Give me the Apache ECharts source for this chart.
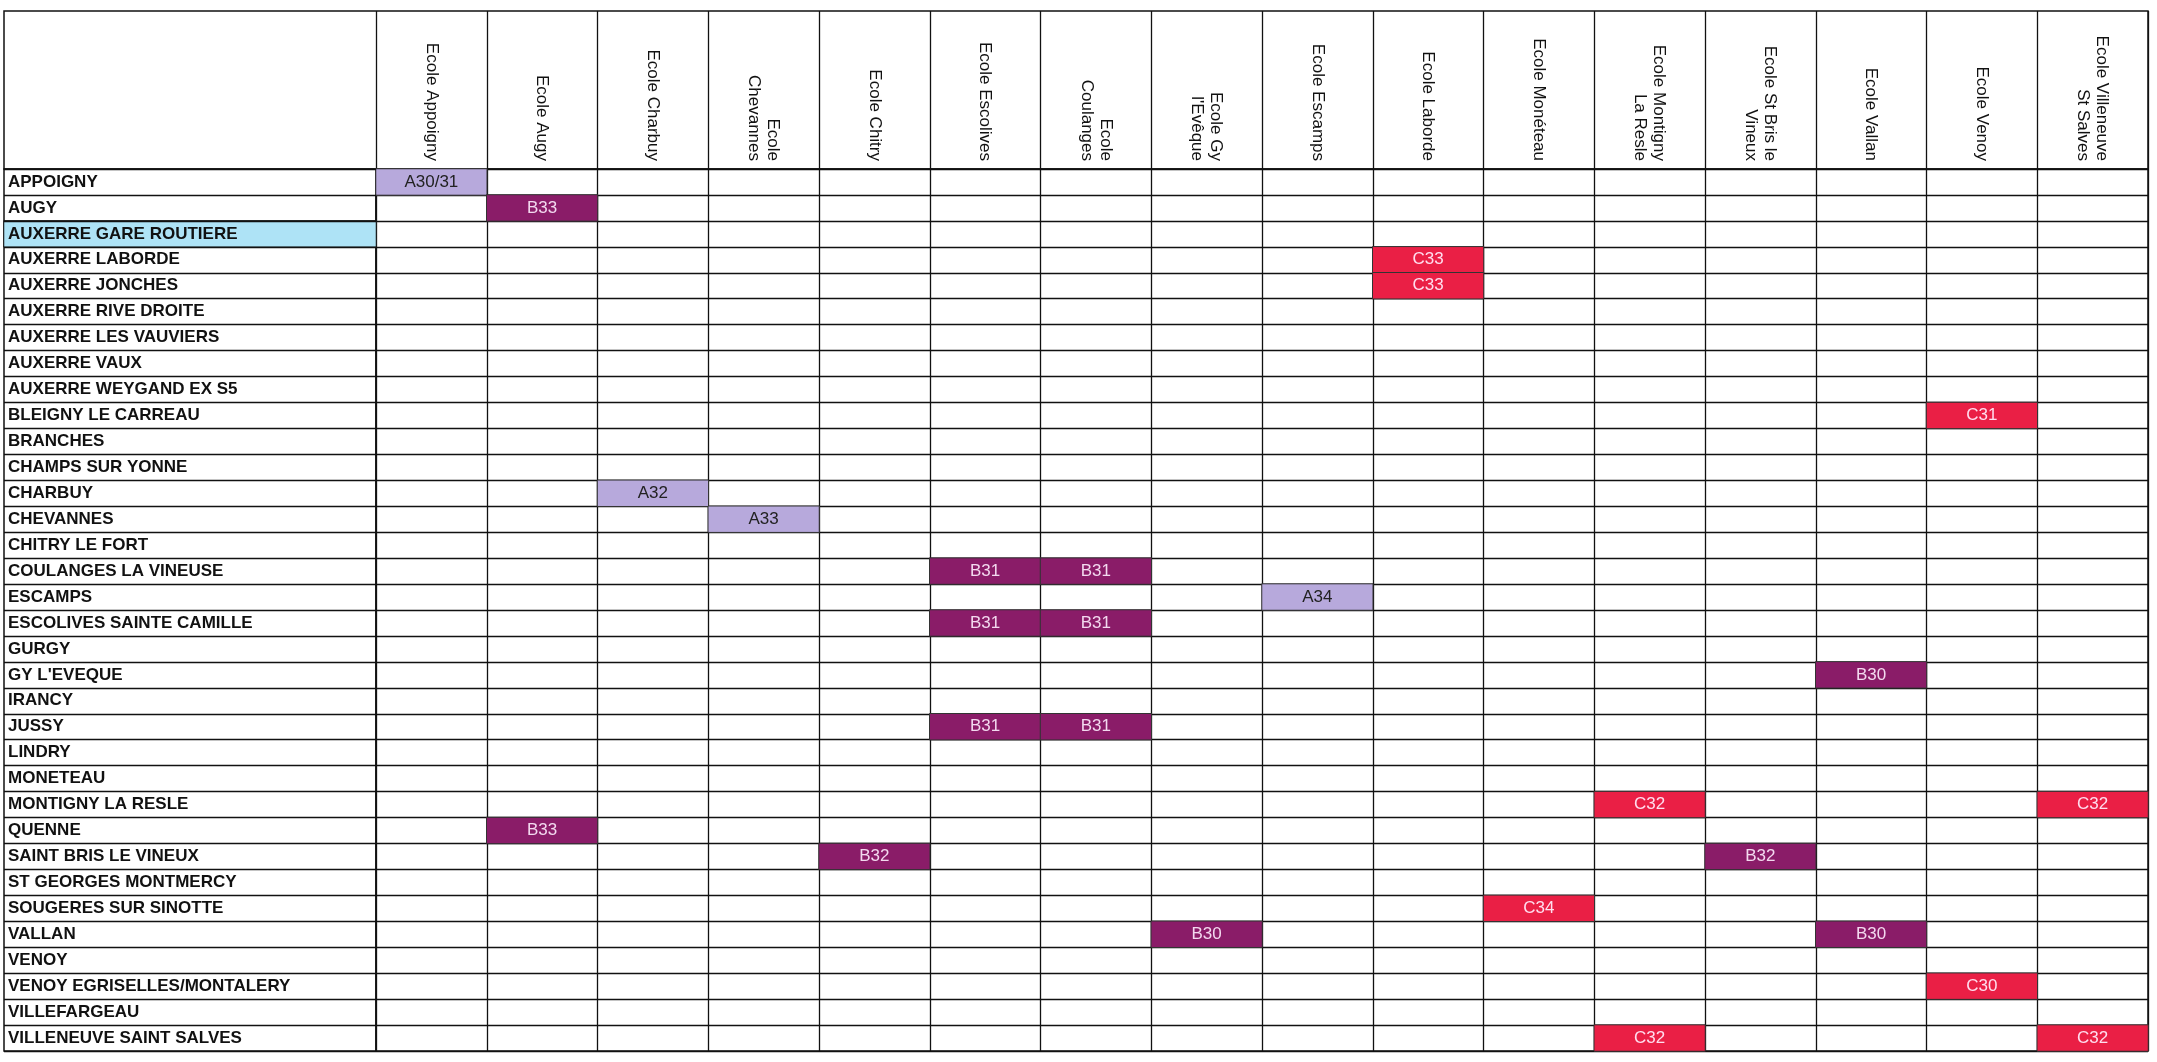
<!DOCTYPE html>
<html><head><meta charset="utf-8">
<script src="https://cdn.jsdelivr.net/npm/echarts@6/dist/echarts.min.js"></script>
<style>html,body{margin:0;padding:0;background:#fff}#c{width:2157px;height:1062px}</style>
</head><body><div id="c"></div>
<script>
const schools = ["Ecole Appoigny","Ecole Augy","Ecole Charbuy","Ecole\nChevannes","Ecole Chitry","Ecole Escolives","Ecole\nCoulanges","Ecole Gy\nl'Evêque","Ecole Escamps","Ecole Laborde","Ecole Monéteau","Ecole Montigny\nLa Resle","Ecole St Bris le\nVineux","Ecole Vallan","Ecole Venoy","Ecole Villeneuve\nSt Salves"];
const stops = ["APPOIGNY","AUGY","AUXERRE GARE ROUTIERE","AUXERRE LABORDE","AUXERRE JONCHES","AUXERRE RIVE DROITE","AUXERRE LES VAUVIERS","AUXERRE VAUX","AUXERRE WEYGAND EX S5","BLEIGNY LE CARREAU","BRANCHES","CHAMPS SUR YONNE","CHARBUY","CHEVANNES","CHITRY LE FORT","COULANGES LA VINEUSE","ESCAMPS","ESCOLIVES SAINTE CAMILLE","GURGY","GY L'EVEQUE","IRANCY","JUSSY","LINDRY","MONETEAU","MONTIGNY LA RESLE","QUENNE","SAINT BRIS LE VINEUX","ST GEORGES MONTMERCY","SOUGERES SUR SINOTTE","VALLAN","VENOY","VENOY EGRISELLES/MONTALERY","VILLEFARGEAU","VILLENEUVE SAINT SALVES"];
const highlightedStops = ["AUXERRE GARE ROUTIERE"];
// [stop, school index, line code]
const assignments = [
 ["APPOIGNY",0,"A30/31"],["AUGY",1,"B33"],["AUXERRE LABORDE",9,"C33"],["AUXERRE JONCHES",9,"C33"],
 ["BLEIGNY LE CARREAU",14,"C31"],["CHARBUY",2,"A32"],["CHEVANNES",3,"A33"],
 ["COULANGES LA VINEUSE",5,"B31"],["COULANGES LA VINEUSE",6,"B31"],["ESCAMPS",8,"A34"],
 ["ESCOLIVES SAINTE CAMILLE",5,"B31"],["ESCOLIVES SAINTE CAMILLE",6,"B31"],["GY L'EVEQUE",13,"B30"],
 ["JUSSY",5,"B31"],["JUSSY",6,"B31"],["MONTIGNY LA RESLE",11,"C32"],["MONTIGNY LA RESLE",15,"C32"],
 ["QUENNE",1,"B33"],["SAINT BRIS LE VINEUX",4,"B32"],["SAINT BRIS LE VINEUX",12,"B32"],
 ["SOUGERES SUR SINOTTE",10,"C34"],["VALLAN",7,"B30"],["VALLAN",13,"B30"],
 ["VENOY EGRISELLES/MONTALERY",14,"C30"],["VILLENEUVE SAINT SALVES",11,"C32"],["VILLENEUVE SAINT SALVES",15,"C32"]
];
</script>
<script>
const style = {A:{bg:"#b7a9dc",fg:"#222"},B:{bg:"#8a1c68",fg:"#f3d9ef"},C:{bg:"#ea1f45",fg:"#fde"}};
const L=4, LW=372, R=2148, TOP=11, HB=169, BOT=1051;
const chart = echarts.init(document.getElementById('c'));
const line = {lineStyle:{color:'#111',width:1.3}};
const cellData = assignments.map(a=>{const s=style[a[2][0]];return {value:[a[1],stops.indexOf(a[0]),1],name:a[2],itemStyle:{color:s.bg},label:{color:s.fg}};});
chart.setOption({
 animation:false,
 grid:[
  {left:L,top:HB,width:LW,height:BOT-HB,show:true,borderColor:'#111',borderWidth:1.5},
  {left:L+LW,top:HB,width:R-L-LW,height:BOT-HB,show:true,borderColor:'#111',borderWidth:1.5},
  {left:L,top:TOP,width:R-L,height:HB-TOP,show:true,borderColor:'#111',borderWidth:1.5},
  {left:L+LW,top:TOP,width:R-L-LW,height:HB-TOP,show:false}
 ],
 xAxis:[
  {gridIndex:0,type:'category',data:[''],show:false},
  {gridIndex:1,type:'category',data:schools,position:'top',axisLine:{show:false},axisTick:{show:false},
   axisLabel:{rotate:90,interval:0,margin:8,fontFamily:'Liberation Sans',fontSize:17,color:'#111',lineHeight:19},
   splitLine:{show:true,interval:0,...line}},
  {gridIndex:2,type:'category',data:[''],show:false},
  {gridIndex:3,type:'category',data:schools,axisLine:{show:false},axisTick:{show:false},axisLabel:{show:false},splitLine:{show:true,interval:0,...line}}
 ],
 yAxis:[
  {gridIndex:0,type:'category',data:stops,inverse:true,axisLine:{show:false},axisTick:{show:false},
   axisLabel:{inside:true,margin:4,interval:0,fontFamily:'Liberation Sans',fontWeight:'bold',fontSize:17,color:'#111'},
   splitLine:{show:true,interval:0,...line},z:5},
  {gridIndex:1,type:'category',data:stops,inverse:true,show:true,axisLine:{show:false},axisTick:{show:false},axisLabel:{show:false},splitLine:{show:true,interval:0,...line}},
  {gridIndex:2,type:'category',data:[''],show:false},
  {gridIndex:3,type:'category',data:[''],show:false}
 ],
 series:[
  {type:'heatmap',xAxisIndex:0,yAxisIndex:0,data:highlightedStops.map(s=>[0,stops.indexOf(s),1]),
   itemStyle:{color:'#aee3f6',borderColor:'#111',borderWidth:1},z:1},
  {type:'heatmap',xAxisIndex:1,yAxisIndex:1,data:cellData,
   itemStyle:{borderColor:'#333',borderWidth:1},
   label:{show:true,formatter:p=>p.name,fontFamily:'Liberation Sans',fontSize:17}}
 ]
});
</script></body></html>
